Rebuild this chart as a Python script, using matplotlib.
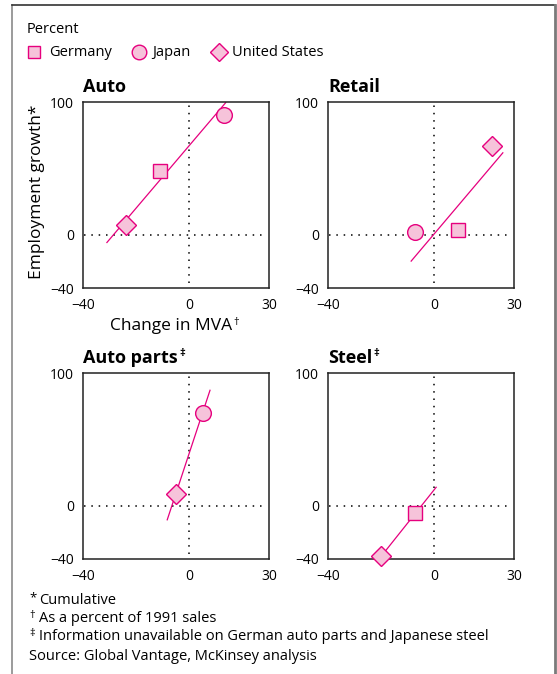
import numpy as np
import matplotlib
matplotlib.use("Agg")
import matplotlib.pyplot as plt
from matplotlib.lines import Line2D

plt.rcParams['font.family'] = ['Open Sans', 'DejaVu Sans']

# data: Germany, Japan, United States (nan = not available)
countries = ['Germany', 'Japan', 'United States']
markers = ['s', 'o', 'D']
msizes = [10, 11.3, 10.6]
leg_sizes = [9.2, 10.5, 9.6]

titles = ['Auto', 'Retail', 'Auto parts', 'Steel']
title_marks = ['', '', '\u2021', '\u2021']
mva = [[-11, 13, -24],
       [8.9, -7.1, 21.7],
       [np.nan, 5, -5],
       [-7.1, np.nan, -20]]
growth = [[48, 90.5, 7.5],
          [4, 2, 67],
          [np.nan, 70, 9.25],
          [-5.75, np.nan, -38]]
# trend line ends
fit_x = [[-31, 13.7], [-8.7, 25.8], [-8.3, 7.8], [-20, 0.7]]
fit_y = [[-5.75, 99.5], [-19.75, 61.75], [-10.5, 87], [-38, 14]]

W, H = 557, 674
fill = '#f6c3da'
edge = '#e6007e'

fig = plt.figure(figsize=(W / 100, H / 100), dpi=100)


def px(x, y):
    return x / W, 1 - y / H


# panel boxes in pixels: left, top
boxes = [(83, 102), (328, 102), (83, 373), (328, 373)]
size = 186

for i, (l, t) in enumerate(boxes):
    ax = fig.add_axes([l / W, 1 - (t + size) / H, size / W, size / H])
    ax.set_xlim(-40, 30)
    ax.set_ylim(-40, 100)
    ax.set_xticks([-40, 0, 30])
    ax.set_yticks([-40, 0, 100])
    ax.tick_params(length=0, labelsize=10, pad=6.5)
    ax.tick_params(axis='x', pad=7)
    for s in ax.spines.values():
        s.set_linewidth(1.1)
        s.set_color('#222222')
    ax.plot([-39.5, 27.5], [0, 0], color='black', lw=1.1,
            linestyle=(0, (1, 3.8)), zorder=1)
    ax.plot([0, 0], [-36.5, 97.5], color='black', lw=1.1,
            linestyle=(0, (1, 3.8)), zorder=1)
    ax.plot(fit_x[i], fit_y[i], color=edge, lw=0.9, zorder=2)
    for j in range(3):
        if np.isnan(mva[i][j]):
            continue
        ax.plot(mva[i][j], growth[i][j], marker=markers[j], ms=msizes[j],
                mfc=fill, mec=edge, mew=1.0, linestyle='none', zorder=3,
                clip_on=False)
    tx, ty = px(l, t - 10)
    tt = fig.text(tx, ty, titles[i], fontsize=13, fontweight='bold',
                  ha='left', va='baseline')
    if title_marks[i]:
        plt.annotate(title_marks[i], xy=(1, 1), xycoords=tt,
                     xytext=(1, 1), textcoords='offset points',
                     fontsize=8, fontweight='bold', ha='left', va='top')

# axis labels
xl = fig.text(*px(110, 330), 'Change in MVA', fontsize=12.5,
              ha='left', va='baseline')
plt.annotate('\u2020', xy=(1, 1), xycoords=xl, xytext=(1, 1),
             textcoords='offset points', fontsize=8, ha='left', va='top')
fig.text(*px(37, 192), 'Employment growth*', fontsize=12.5,
         rotation=90, ha='center', va='center')

# legend row
fig.text(*px(27, 33), 'Percent', fontsize=10.5, ha='left', va='baseline')
leg_pos = [(34, 49.5), (139, 152.5), (219, 232.5)]
for j, (mx, tx) in enumerate(leg_pos):
    x, y = px(mx, 52)
    fig.add_artist(Line2D([x], [y], marker=markers[j], ms=leg_sizes[j],
                          mfc=fill, mec=edge, mew=1.0, linestyle='none',
                          transform=fig.transFigure))
    fig.text(*px(tx, 52), countries[j], fontsize=10.5, ha='left', va='center')

# footnotes
note_marks = ['*', '\u2020', '\u2021', '']
notes = ['Cumulative', 'As a percent of 1991 sales',
         'Information unavailable on German auto parts and Japanese steel',
         'Source: Global Vantage, McKinsey analysis']
for m, n, yy in zip(note_marks, notes, [600, 618, 636, 656]):
    if m:
        fig.text(*px(29, yy - 2), m, fontsize=8 if m != '*' else 9.5,
                 ha='left', va='center')
        fig.text(*px(39, yy), n, fontsize=10.5, ha='left', va='center')
    else:
        fig.text(*px(29, yy), n, fontsize=10.5, ha='left', va='center')

# frame around the exhibit (open at the bottom)
fig.add_artist(Line2D([11.7 / W, 11.7 / W], [0, 1 - 5 / H], color='#8a8a8a',
                      lw=1.2, transform=fig.transFigure))
fig.add_artist(Line2D([11.7 / W, 555 / W], [1 - 5 / H, 1 - 5 / H],
                      color='#333333', lw=1.2, transform=fig.transFigure))
fig.add_artist(Line2D([555 / W, 555 / W], [0, 1 - 5 / H], color='#7a7a7a',
                      lw=2.0, transform=fig.transFigure))

fig.savefig('out.png', dpi=100)
